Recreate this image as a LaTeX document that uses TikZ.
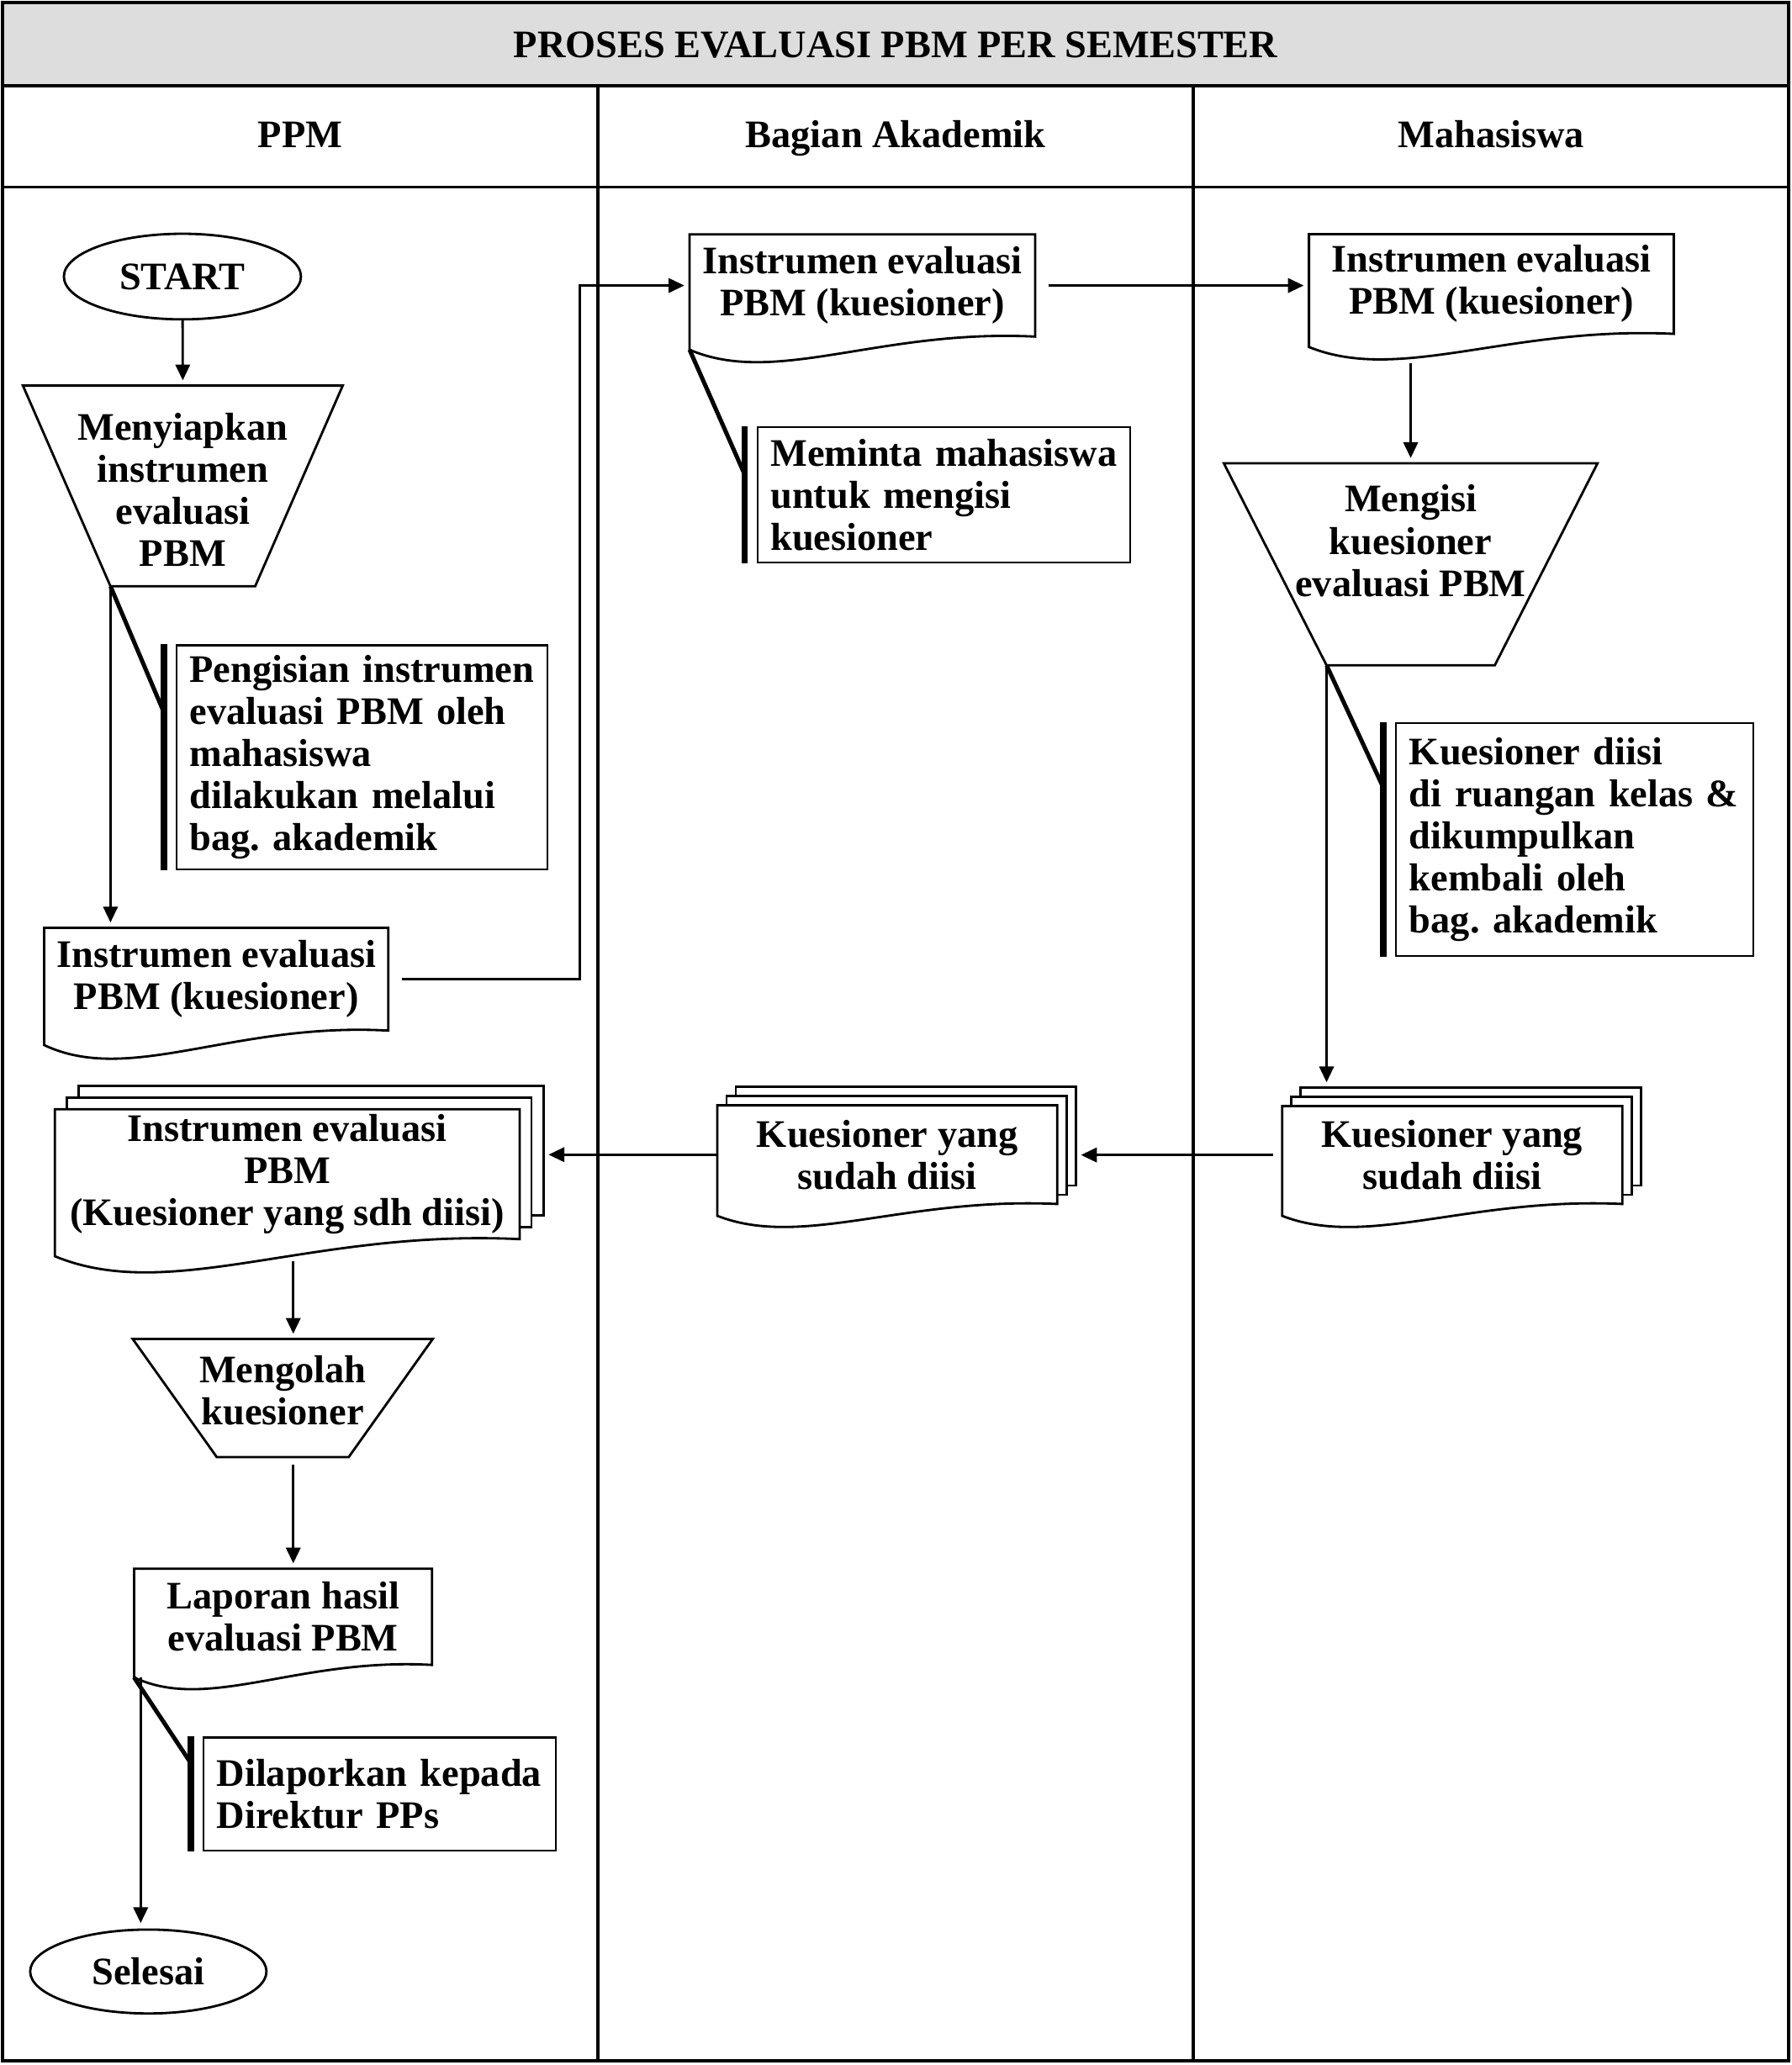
\documentclass[tikz,border=0pt]{standalone}
\usepackage{fontspec}
\setmainfont{Liberation Serif}
\usepackage{xcolor}
\definecolor{bandgray}{RGB}{221,221,221}
\usetikzlibrary{arrows.meta,positioning,calc,shapes.geometric}
\pgfdeclarelayer{background}
\pgfsetlayers{background,main}

% document outline below a node: #2 node, #3 wave depth
\newcommand{\docoutline}[3][]{%
  \draw[shapeline,#1] ($(#2.south west)+(0,#3)$) -- (#2.north west) -- (#2.north east) -- (#2.south east)
    .. controls ($(#2.south west)!0.55!(#2.south east)+(0,-0.6*#3)$) and ($(#2.south west)!0.25!(#2.south east)+(0,3.8*#3)$) .. ($(#2.south west)+(0,#3)$) -- cycle;
  \coordinate (#2-sw) at ($(#2.south west)+(0,#3)$);}
% stacked documents: #1 node, #2 wave depth, #3 layer offset
\newcommand{\multidocoutline}[3]{%
  \begin{pgfonlayer}{background}
    \draw[shapeline, fill=white] ($(#1.north west)+(2*#3,-2*#3)$) rectangle ($(#1.south east)+(2*#3,-2*#3)$);
    \draw[shapeline, fill=white] ($(#1.north west)+(#3,-#3)$) rectangle ($(#1.south east)+(#3,-#3)$);
    \docoutline[fill=white]{#1}{#2}
  \end{pgfonlayer}
  \coordinate (#1-back) at ($(#1.north)+(2*#3,-2*#3)$);
  \coordinate (#1-be) at ($(#1.east)+(2*#3,-2*#3)$);}
% manual operation funnel: #1 node, #2 side indent, #3 vertical shift
\newcommand{\funneloutline}[3]{%
  \draw[shapeline] ($(#1.north west)+(0,#3)$) -- ($(#1.north east)+(0,#3)$) -- ($(#1.south east)+(-#2,#3)$) -- ($(#1.south west)+(#2,#3)$) -- cycle;
  \coordinate (#1-n) at ($(#1.north)+(0,#3)$);
  \coordinate (#1-s) at ($(#1.south)+(0,#3)$);
  \coordinate (#1-sw) at ($(#1.south west)+(#2,#3)$);}
% annotation bracket: #1 from, #2 note, #3 fraction along the bar
\newcommand{\notelink}[3]{%
  \draw[notebar] ($(#2.north west)+(-9,0)$) -- ($(#2.south west)+(-9,0)$);
  \draw[notediag] (#1) -- ($(#2.north west)!#3!(#2.south west)+(-9,0)$);}

\begin{document}
\begin{tikzpicture}[x=1pt, y=-1pt,
  font=\fontsize{29.6}{32}\selectfont\bfseries,
  frameline/.style={line width=2.4pt},
  shapeline/.style={line width=1.8pt},
  arr/.style={line width=1.8pt, -{Triangle[length=12pt,width=11pt]}, shorten >=4pt},
  terminal/.style={ellipse, draw, line width=1.8pt, inner sep=0pt},
  docbox/.style={align=center, inner sep=0pt},
  funnelbox/.style={align=center, inner sep=0pt},
  notebox/.style={draw, line width=1.4pt, align=left, inner xsep=10pt, inner ysep=0pt,
    execute at begin node={\hyphenpenalty=10000\exhyphenpenalty=10000}},
  notebar/.style={line width=5pt},
  notediag/.style={line width=3.2pt}]
  \useasboundingbox (0,0) rectangle (1360,1568);

  % Frame and lanes
  \draw[frameline, fill=bandgray] (2,2) rectangle (1358,65);
  \draw[frameline] (2,2) rectangle (1358,1565);
  \draw[frameline] (2,142) -- (1358,142);
  \draw[frameline] (454,65) -- (454,1565);
  \draw[frameline] (906,65) -- (906,1565);
  \node[anchor=base] (title) at (680,43.6) {PROSES EVALUASI PBM PER SEMESTER};
  \node[anchor=base] (hPPM) at (228,112) {PPM};
  \node[anchor=base] (hBA) at (680,112) {Bagian Akademik};
  \node[anchor=base] (hMhs) at (1132,112) {Mahasiswa};

  % PPM
  \node[terminal, minimum width=180pt, minimum height=65pt] (start) at (138.5,210) {START};
  \node[funnelbox, minimum width=242.4pt, minimum height=152pt] (fPrep) at (138.8,372) {Menyiapkan\\instrumen\\evaluasi\\PBM};
  \funneloutline{fPrep}{66.5}{-3}
  \node[notebox, text width=261.7pt, minimum height=170pt] (nPrep) at (274.9,575) {Pengisian~instrumen\\evaluasi~PBM~oleh\\mahasiswa\\dilakukan~melalui\\bag.~akademik};
  \node[docbox, minimum width=260.9pt, minimum height=77.7pt] (dPPM) at (164.2,743.5) {Instrumen evaluasi\\PBM (kuesioner)};
  \docoutline{dPPM}{11}
  \node[docbox, minimum width=352.4pt, minimum height=98.2pt] (mPPM) at (218.1,891.6) {Instrumen evaluasi\\PBM\\(Kuesioner yang sdh diisi)};
  \multidocoutline{mPPM}{13}{9}
  \node[funnelbox, minimum width=227.3pt, minimum height=89.3pt] (fProc) at (214.65,1055.5) {Mengolah\\kuesioner};
  \funneloutline{fProc}{63.8}{6.1}
  \node[docbox, minimum width=225.8pt, minimum height=72.7pt] (dRep) at (214.9,1227.65) {Laporan hasil\\evaluasi PBM};
  \docoutline{dRep}{9.5}
  \node[notebox, text width=247.5pt, minimum height=85.7pt] (nRep) at (288.25,1362.15) {Dilaporkan~kepada\\Direktur~PPs};
  \node[terminal, minimum width=179.4pt, minimum height=63.7pt] (stop) at (112.6,1497) {Selesai};

  % Bagian Akademik
  \node[docbox, minimum width=261.9pt, minimum height=77.2pt] (dBA) at (654.7,216.8) {Instrumen evaluasi\\PBM (kuesioner)};
  \docoutline{dBA}{10}
  \node[notebox, text width=263pt, minimum height=102.5pt] (nBA) at (716.5,375.75) {Meminta~mahasiswa\\untuk~mengisi\\kuesioner};
  \node[docbox, minimum width=257.7pt, minimum height=74.5pt] (mBA) at (673.65,876.75) {Kuesioner yang\\sudah diisi};
  \multidocoutline{mBA}{9}{7}

  % Mahasiswa
  \node[docbox, minimum width=276.5pt, minimum height=75.3pt] (dMhs) at (1132.25,215.65) {Instrumen evaluasi\\PBM (kuesioner)};
  \docoutline{dMhs}{10}
  \node[funnelbox, minimum width=283.3pt, minimum height=153pt] (fMhs) at (1071,410.7) {Mengisi\\kuesioner\\evaluasi PBM};
  \funneloutline{fMhs}{78}{17.8}
  \node[notebox, text width=251pt, minimum height=177pt] (nMhs) at (1195.5,637.5) {Kuesioner~diisi\\di~ruangan~kelas~\&\\dikumpulkan\\kembali~oleh\\bag.~akademik};
  \node[docbox, minimum width=257.9pt, minimum height=74pt] (mMhs) at (1102.55,877) {Kuesioner yang\\sudah diisi};
  \multidocoutline{mMhs}{9}{7}

  % Annotations
  \notelink{fPrep-sw}{nPrep}{0.30}
  \notelink{dBA-sw}{nBA}{0.35}
  \notelink{fMhs-sw}{nMhs}{0.28}
  \notelink{dRep-sw}{nRep}{0.23}

  % Flow
  \coordinate (laneA) at (440,0);
  \draw[arr] (start) -- (fPrep-n);
  \draw[arr] (fPrep-sw) -- (fPrep-sw |- dPPM.north);
  \draw[arr, shorten <=10pt] (dPPM.east) -- (dPPM.east -| laneA) |- (dBA.west);
  \draw[arr, shorten <=10pt] (dBA.east) -- (dBA.east -| dMhs.west);
  \draw[arr, shorten <=22pt] (fMhs-n |- dMhs.south) -- (fMhs-n);
  \draw[arr] (fMhs-sw) -- (fMhs-sw |- mMhs-back);
  \draw[arr, shorten <=7pt] (mMhs.west) -- (mMhs.west -| mBA-be);
  \draw[arr] (mBA.west) -- (mBA.west -| mPPM-be);
  \draw[arr, shorten <=17pt] ([xshift=8pt]fProc-n |- mPPM.south) -- ([xshift=8pt]fProc-n);
  \draw[arr, shorten <=6pt] ([xshift=8pt]fProc-s) -- ([xshift=8pt]fProc-s |- dRep.north);
  \draw[arr] ([xshift=5pt]dRep-sw) -- ([xshift=5pt]dRep-sw |- stop.north);
\end{tikzpicture}
\end{document}
